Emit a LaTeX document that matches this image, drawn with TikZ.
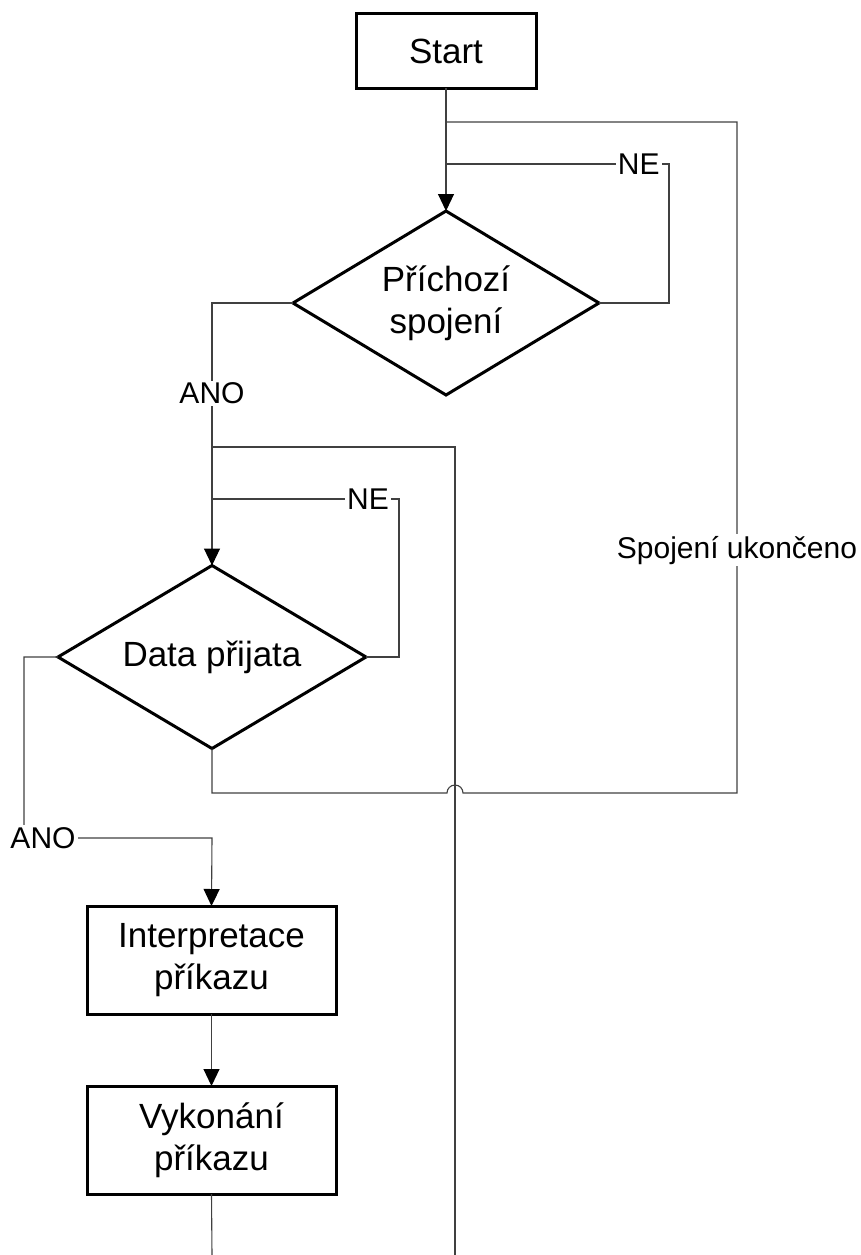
\documentclass[tikz,border=0pt]{standalone}
\usepackage{fontspec}
\setmainfont{Liberation Sans}
\usetikzlibrary{shapes.geometric,arrows.meta}
\begin{document}
\begin{tikzpicture}[x=1pt,y=-1pt,
  box/.style={draw, line width=3pt, rectangle, minimum width=180pt,
    minimum height=74pt, inner sep=0pt, outer sep=0pt, align=center,
    font=\fontsize{35}{42}\selectfont},
  dec/.style={draw, line width=3pt, diamond, aspect=1.66,
    minimum width=306pt, minimum height=184pt, inner sep=0pt, outer sep=0pt,
    align=center, font=\fontsize{35}{42}\selectfont},
  conn/.style={line width=1.1pt, draw=black!75},
  arr/.style={conn, -{Triangle[length=17pt,width=16pt,color=black,fill=black]}},
  lbl/.style={fill=white, inner sep=2pt, font=\fontsize{30}{36}\selectfont},
]
\useasboundingbox (0,0) rectangle (860,1255);

% steps and decisions
\node[box] (start) at (446,51) {Start};
\node[dec] (d1) at (446,303) {Příchozí\\spojení};
\node[dec, minimum width=308pt, minimum height=183pt] (d2) at (212,657) {Data přijata};
\node[box, minimum width=249pt, minimum height=108pt] (i1) at (211.5,960) {Interpretace\\příkazu};
\node[box, minimum width=249pt, minimum height=108pt] (i2) at (211.5,1140) {Vykonání\\příkazu};

% junction points on the flow lines
\coordinate (j0) at (446,122);
\coordinate (j1) at (446,164);
\coordinate (j2) at (212,447);
\coordinate (j3) at (212,499);
\coordinate (a2) at (212,838);
\coordinate (jl) at (447,793);
\coordinate (sr) at (737,793);
\coordinate (out1) at (212,1255);
\coordinate (out2) at (455,1255);

% connectors
\draw[arr] (start.south) -- (d1.north);
\draw[conn] (d1.east) -- ++(70,0) |- node[lbl, pos=0.568] {NE} (j1);
\draw[arr] (d1.west) -| node[lbl, pos=0.672] {ANO} (d2.north);
\draw[conn] (j2) -| (out2);
\draw[conn] (d2.east) -- ++(33,0) |- node[lbl, pos=0.583] {NE} (j3);
\draw[conn] (d2.south) |- (jl) arc[start angle=180, end angle=0, radius=8pt]
  -- (sr) |- node[lbl, pos=0.181] {Spojení ukončeno} (j0);
\draw[arr] (d2.west) -- ++(-34,0) |- node[lbl, pos=0.5, xshift=19pt] {ANO} (a2) -- (i1.north);
\draw[arr] (i1.south) -- (i2.north);
\draw[conn] (i2.south) -- (out1);
\end{tikzpicture}
\end{document}
